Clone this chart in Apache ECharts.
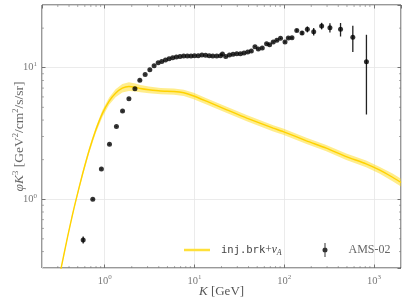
<!DOCTYPE html>
<html><head><meta charset="utf-8">
<script src="https://cdn.jsdelivr.net/npm/echarts@6/dist/echarts.min.js"></script>
<style>html,body{margin:0;padding:0;background:#fff}#c{width:407px;height:305px}</style>
</head><body><div id="c"></div>
<script>
// ---- AMS-02 data (K in GeV, phi*K^3) ----
const amsK = [0.575, 0.736, 0.918, 1.13, 1.35, 1.58, 1.86, 2.17, 2.46, 2.82,
  3.18, 3.55, 3.94, 4.32, 4.75, 5.21, 5.72, 6.28, 6.90, 7.58,
  8.32, 9.14, 10.0, 11.0, 12.1, 13.3, 14.6, 16.0, 17.7, 19.5,
  20.5, 22.3, 24.5, 26.9, 29.6, 32.5, 35.6, 39.2, 43.0, 47.2,
  51.4, 56.9, 63.6, 68.7, 75.4, 82.8, 90.9, 102, 111, 122,
  138, 158, 181, 213, 261, 323, 424, 581, 824];
const amsFlux = [0.49, 1.00, 1.70, 2.62, 3.57, 4.68, 5.81, 6.92, 8.05, 8.89,
  9.66, 10.36, 10.91, 11.17, 11.44, 11.71, 11.92, 12.06, 12.2, 12.27,
  12.27, 12.27, 12.35, 12.35, 12.49, 12.42, 12.35, 12.27, 12.27, 12.35,
  12.71, 12.2, 12.49, 12.64, 12.79, 12.79, 12.94, 13.16, 13.39, 14.45,
  13.87, 14.12, 15.24, 14.97, 15.69, 16.15, 16.73, 15.69, 16.83, 16.92,
  19.2, 18.36, 19.58, 18.8, 20.77, 20.17, 19.58, 17.02, 11.11];
const amsErr = [0.03, 0.01, 0.01, 0.02, 0.02, 0.03, 0.03, 0.04, 0.04, 0.04,
  0.05, 0.05, 0.05, 0.05, 0.05, 0.05, 0.05, 0.05, 0.05, 0.05,
  0.05, 0.05, 0.05, 0.05, 0.05, 0.05, 0.05, 0.05, 0.05, 0.05,
  0.06, 0.06, 0.06, 0.07, 0.07, 0.08, 0.08, 0.09, 0.1, 0.1,
  0.11, 0.12, 0.13, 0.14, 0.16, 0.18, 0.2, 0.22, 0.25, 0.3,
  0.45, 0.55, 1.0, 1.25, 1.2, 1.6, 2.3, 3.85, 6.7];

// ---- model: inj.brk + v_A ----
const modelK = [0.3, 0.32, 0.386, 0.43, 0.477, 0.566, 0.67, 0.795, 0.943, 1.12,
  1.32, 1.57, 1.86, 2.2, 2.5, 3.1, 4.2, 5.9, 7.6, 9.8,
  13.8, 22.9, 38.2, 75.4, 97.3, 177, 294, 491, 817, 1148, 1611, 2000];
const modelFlux = [0.225, 0.28, 0.52, 0.726, 0.98, 1.555, 2.35, 3.36, 4.50, 5.58,
  6.41, 7.0, 7.2, 7.1, 6.95, 6.8, 6.65, 6.6, 6.45, 6.1,
  5.54, 4.79, 4.14, 3.47, 3.27, 2.78, 2.45, 2.11, 1.86, 1.67, 1.47, 1.34];
const modelLow = [0.218, 0.272, 0.504, 0.704, 0.946, 1.49, 2.24, 3.19, 4.23, 5.22,
  5.96, 6.48, 6.66, 6.60, 6.50, 6.39, 6.28, 6.24, 6.10, 5.76,
  5.24, 4.53, 3.91, 3.28, 3.09, 2.63, 2.32, 1.99, 1.75, 1.57, 1.37, 1.25];
const modelHigh = [0.232, 0.288, 0.536, 0.748, 1.014, 1.62, 2.46, 3.53, 4.77, 5.94,
  6.86, 7.52, 7.74, 7.60, 7.40, 7.21, 7.02, 6.96, 6.80, 6.44,
  5.84, 5.05, 4.37, 3.66, 3.45, 2.93, 2.58, 2.23, 1.97, 1.77, 1.57, 1.43];

// ---- axes ----
const xRange = [0.2, 2000];
const yRange = [0.3, 30];
const xMinorTicks = [0.3, 0.4, 0.5, 0.6, 0.7, 0.8, 0.9, 2, 3, 4, 5, 6, 7, 8, 9,
  20, 30, 40, 50, 60, 70, 80, 90, 200, 300, 400, 500, 600, 700, 800, 900];
const yMinorTicks = [0.4, 0.5, 0.6, 0.7, 0.8, 0.9, 2, 3, 4, 5, 6, 7, 8, 9, 20];

const serif = '"Liberation Serif","DejaVu Serif",serif';
const mono = '"DejaVu Sans Mono","Liberation Mono",monospace';
const tickColor = '#777';
const tickRich = {
  b: {fontFamily: serif, fontSize: 10.5, color: tickColor},
  s: {fontFamily: serif, fontSize: 7, color: tickColor, padding: [0, 0, 7, 0]}
};
function powLabel(v) { return '{b|10}{s|' + Math.round(Math.log10(v)) + '}'; }

function axisBase(range, extra) {
  return Object.assign({
    type: 'log', logBase: 10, min: range[0], max: range[1],
    axisLine: {show: false},
    axisTick: {show: true, inside: true, length: 3.5, lineStyle: {color: '#555', width: 0.8}},
    minorTick: {show: false},
    splitLine: {show: false},
    axisLabel: {show: false}
  }, extra || {});
}
const minorLen = 2;
const minorStyle = {stroke: '#777', lineWidth: 0.6};

const chart = echarts.init(document.getElementById('c'), null, {renderer: 'canvas'});
chart.setOption({
  animation: false,
  backgroundColor: '#fff',
  grid: {left: 42, right: 6, top: 5, bottom: 37, containLabel: false, outerBoundsMode: 'none',
         show: true, borderColor: '#333', borderWidth: 1, backgroundColor: 'transparent'},
  xAxis: [
    axisBase(xRange, {
      position: 'bottom',
      splitLine: {show: true, lineStyle: {color: '#e6e6e6', width: 0.8}},
      axisLabel: {show: true, formatter: powLabel, rich: tickRich, showMinLabel: false, showMaxLabel: false, margin: 6},
      name: '{i|K} {n|[GeV]}', nameLocation: 'middle', nameGap: 17, nameMoveOverlap: false,
      nameTextStyle: {rich: {
        i: {fontFamily: serif, fontStyle: 'italic', fontSize: 13, color: '#555'},
        n: {fontFamily: serif, fontSize: 13, color: '#555'}
      }}
    }),
    axisBase(xRange, {position: 'top'})
  ],
  yAxis: [
    axisBase(yRange, {
      position: 'left',
      splitLine: {show: true, lineStyle: {color: '#e6e6e6', width: 0.8}},
      axisLabel: {show: true, formatter: powLabel, rich: tickRich, showMinLabel: false, showMaxLabel: false, margin: 5},
      name: '{i|φK}{s|3}{n| [GeV}{s|2}{n|/cm}{s|2}{n|/s/sr]}',
      nameLocation: 'middle', nameGap: 15, nameRotate: 90, nameMoveOverlap: false,
      nameTextStyle: {rich: {
        i: {fontFamily: serif, fontStyle: 'italic', fontSize: 13.5, color: '#666'},
        n: {fontFamily: serif, fontSize: 13.5, color: '#666'},
        s: {fontFamily: serif, fontSize: 8.5, color: '#666', padding: [0, 0, 7, 0]}
      }}
    }),
    axisBase(yRange, {position: 'right'})
  ],
  legend: [
    {
      selectedMode: false, left: 184, top: 244, padding: 0, itemWidth: 26, itemHeight: 2.5,
      data: [{name: 'model', icon: 'rect', itemStyle: {color: '#FFE03A'}}],
      formatter: () => '{m|inj.brk}{n|+}{i|v}{sub|A}',
      textStyle: {padding: [0, 0, 0, 6], rich: {
        m: {fontFamily: mono, fontSize: 10.5, color: '#444'},
        n: {fontFamily: serif, fontSize: 11.5, color: '#444'},
        i: {fontFamily: serif, fontStyle: 'italic', fontSize: 11.5, color: '#444'},
        sub: {fontFamily: serif, fontStyle: 'italic', fontSize: 8, color: '#444', padding: [5, 0, 0, 0]}
      }}
    },
    {
      selectedMode: false, left: 322.5, top: 243, padding: 0, itemWidth: 5, itemHeight: 14,
      data: [{name: 'AMS-02',
        icon: 'path://M2,0 L3,0 L3,14 L2,14 Z M0,7 A2.5,2.5 0 1,1 5,7 A2.5,2.5 0 1,1 0,7 Z',
        itemStyle: {color: '#000'}}],
      textStyle: {fontFamily: serif, fontSize: 12, color: '#666', padding: [0, 0, 0, 16]}
    }
  ],
  series: [
    {
      type: 'custom', name: 'xminor', silent: true, clip: false, z: 5,
      xAxisIndex: 0, yAxisIndex: 0,
      data: xMinorTicks.map(v => [v, 1]),
      renderItem: function (params, api) {
        const b = api.coord([api.value(0), yRange[0]]);
        const t = api.coord([api.value(0), yRange[1]]);
        return {type: 'group', children: [
          {type: 'line', shape: {x1: b[0], y1: b[1], x2: b[0], y2: b[1] - minorLen}, style: minorStyle},
          {type: 'line', shape: {x1: t[0], y1: t[1], x2: t[0], y2: t[1] + minorLen}, style: minorStyle}
        ]};
      }
    },
    {
      type: 'custom', name: 'yminor', silent: true, clip: false, z: 5,
      xAxisIndex: 0, yAxisIndex: 0,
      data: yMinorTicks.map(v => [1, v]),
      renderItem: function (params, api) {
        const l = api.coord([xRange[0], api.value(1)]);
        const r = api.coord([xRange[1], api.value(1)]);
        return {type: 'group', children: [
          {type: 'line', shape: {x1: l[0], y1: l[1], x2: l[0] + minorLen, y2: l[1]}, style: minorStyle},
          {type: 'line', shape: {x1: r[0], y1: r[1], x2: r[0] - minorLen, y2: r[1]}, style: minorStyle}
        ]};
      }
    },
    {
      type: 'custom', name: 'band', silent: true, clip: true, z: 1,
      xAxisIndex: 0, yAxisIndex: 0,
      data: [[1, 1]],
      renderItem: function (params, api) {
        const pts = [];
        for (let i = 0; i < modelK.length; i++) pts.push(api.coord([modelK[i], modelHigh[i]]));
        for (let i = modelK.length - 1; i >= 0; i--) pts.push(api.coord([modelK[i], modelLow[i]]));
        return {type: 'polygon', shape: {points: pts}, style: {fill: 'rgba(255,214,0,0.45)'}};
      }
    },
    {
      type: 'line', name: 'model', z: 2, xAxisIndex: 0, yAxisIndex: 0,
      data: modelK.map((k, i) => [k, modelFlux[i]]),
      showSymbol: false, smooth: 0.2, clip: true,
      lineStyle: {color: '#FFD200', width: 1.4}, itemStyle: {color: '#FFD200'}
    },
    {
      type: 'custom', name: 'err', silent: true, clip: true, z: 3,
      xAxisIndex: 0, yAxisIndex: 0,
      data: amsK.map((k, i) => [k, amsFlux[i] - amsErr[i], amsFlux[i] + amsErr[i]]),
      encode: {x: 0, y: [1, 2]},
      renderItem: function (params, api) {
        const p1 = api.coord([api.value(0), api.value(1)]);
        const p2 = api.coord([api.value(0), api.value(2)]);
        return {type: 'line', shape: {x1: p1[0], y1: p1[1], x2: p2[0], y2: p2[1]},
                style: {stroke: '#222', lineWidth: 1.3}};
      }
    },
    {
      type: 'scatter', name: 'AMS-02', z: 4, xAxisIndex: 0, yAxisIndex: 0,
      data: amsK.map((k, i) => [k, amsFlux[i]]),
      symbol: 'circle', symbolSize: 5, itemStyle: {color: '#000'}
    }
  ]
});
</script></body></html>
